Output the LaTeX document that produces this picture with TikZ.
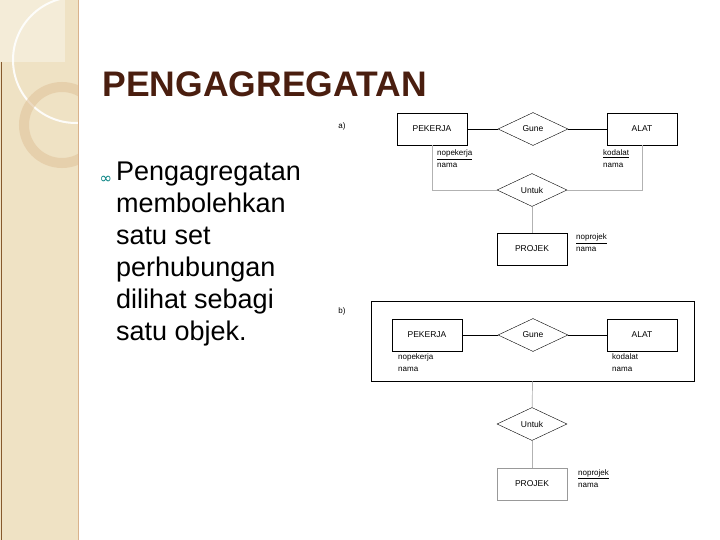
\documentclass[tikz,border=0pt]{standalone}
\usepackage{fontspec}
\setmainfont{Liberation Sans}
\newfontfamily\dejavu{DejaVu Sans}
\usetikzlibrary{shapes.geometric}
\definecolor{beige}{HTML}{EFE2C4}
\definecolor{titlec}{HTML}{4A1E0F}
\begin{document}
\begin{tikzpicture}[x=1pt,y=-1pt,
  ent/.style={draw,line width=0.8pt,minimum width=70pt,minimum height=32pt,inner sep=0pt,font=\fontsize{8.5}{10}\selectfont},
  rel/.style={draw,diamond,aspect=2.1,minimum width=70pt,minimum height=33pt,inner sep=0pt,font=\fontsize{8.5}{10}\selectfont},
  attr/.style={align=left,anchor=north west,inner sep=0pt,font=\fontsize{8}{12}\selectfont},
  lbl/.style={font=\fontsize{8}{10}\selectfont},
  dark/.style={line width=0.8pt},
  grey/.style={draw=gray!60,line width=0.7pt}]
\useasboundingbox (0,0) rectangle (720,540);
\fill[white] (0,0) rectangle (720,540);
% left strip
\begin{scope}
\clip (0,0) rectangle (78,540);
\fill[beige] (0,0) rectangle (78,540);
\fill[white,opacity=0.35] (0,0) rectangle (65,62);
\draw[white,line width=2pt,opacity=0.9] (76,60) circle (63);
\draw[brown!30!beige,line width=10pt,opacity=0.6] (62,125) circle (38);
\draw[brown!70!black,line width=0.8pt] (1.5,62) -- (1.5,540);
\end{scope}
\draw[brown!60,line width=0.8pt] (78,0) -- (78,540);
% title
\node[anchor=west,text=titlec,font=\bfseries\fontsize{35.5}{40}\selectfont] (title) at (99,84) {PENGAGREGATAN};
\node[anchor=west,text=teal,font=\dejavu\fontsize{15}{16}\selectfont] (bul) at (96,180) {∞};
\node[anchor=north west,align=left,inner sep=0pt,font=\fontsize{27}{32}\selectfont] (body) at (116,162)
 {Pengagregatan\\membolehkan\\satu set\\perhubungan\\dilihat sebagi\\satu objek.};
% diagram a
\node[lbl] (la) at (342,126) {a)};
\node[ent] (pa) at (432,129) {PEKERJA};
\node[rel] (ga) at (533,129) {Gune};
\node[ent] (aa) at (642,129) {ALAT};
\node[rel] (ua) at (532,190) {Untuk};
\node[ent] (ja) at (532,249) {PROJEK};
\node[attr] (pat) at (437,150) {\underline{nopekerja}\\nama};
\node[attr] (aat) at (603,150) {\underline{kodalat}\\nama};
\node[attr] (jat) at (576,234) {\underline{noprojek}\\nama};
\draw[dark] (pa) -- (ga) -- (aa);
\draw[grey] (pa.south) |- (ua.west);
\draw[grey] (aa.south) |- (ua.east);
\draw[grey] (ua) -- (ja);
% diagram b
\node[lbl] (lb) at (342,311) {b)};
\node[draw,line width=0.8pt,minimum width=323pt,minimum height=80pt] (agg) at (532.5,341) {};
\node[ent] (pb) at (427,335) {PEKERJA};
\node[rel] (gb) at (533,335) {Gune};
\node[ent] (ab) at (642,335) {ALAT};
\node[attr] (pbt) at (398,354) {nopekerja\\nama};
\node[attr] (abt) at (612,354) {kodalat\\nama};
\node[rel] (ub) at (532,424) {Untuk};
\node[ent,draw=gray!80] (jb) at (532,484) {PROJEK};
\node[attr] (jbt) at (578,469) {\underline{noprojek}\\nama};
\draw[dark] (pb) -- (gb) -- (ab);
\draw[grey] (agg.south) -- (ub);
\draw[grey] (ub) -- (jb);
\end{tikzpicture}
\end{document}
